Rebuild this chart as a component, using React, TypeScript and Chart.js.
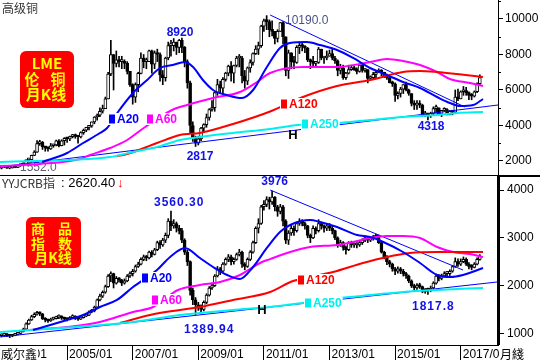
import React, { useEffect, useRef } from "react";
import { Chart, registerables } from "chart.js";

Chart.register(...registerables);

// ---------- axis ranges / ticks ----------
const START_YEAR = 2003; // first monthly candle = 2003/01
const X_MIN = 2002.954;
const X_MAX = 2018.137;
const yearTicks = [2003, 2005, 2007, 2009, 2011, 2013, 2015, 2017];
const cuTicks = [2000, 4000, 6000, 8000, 10000];
const cuMinorTicks = [3000, 5000, 7000, 9000, 11000];
const crbTicks = [1000, 2000, 3000, 4000];

// ---------- LME copper, monthly 2003/01 .. 2017/08 ----------
const cuFirstOpen = 1600;
const cuClose = [
  1690, 1660, 1590, 1610, 1660, 1640, 1740, 1770, 1800, 2060, 2080, 2320,
  2500, 2980, 3050, 2800, 2740, 2680, 2860, 2900, 3130, 2860, 3140, 3280,
  3250, 3370, 3400, 3380, 3350, 3600, 3730, 3890, 3980, 4200, 4480, 4580,
  4800, 4950, 5500, 6900, 8000, 7500, 7700, 7600, 7600, 7500, 7050, 6300,
  5600, 6300, 6940, 7800, 7600, 7600, 8200, 7450, 8100, 8000, 6850, 6700,
  7800, 8500, 8500, 8700, 8400, 8800, 8400, 7600, 6400, 4000, 3300, 3000,
  3250, 3850, 4050, 4450, 4900, 5000, 5850, 6300, 6100, 6600, 6950, 7350,
  6950, 7380, 7800, 7800, 6800, 6500, 7250, 7550, 8050, 8300, 8500, 9600,
  9900, 9850, 9400, 9300, 8900, 9300, 9800, 9000, 7100, 8100, 7600, 7550,
  8400, 8500, 8450, 8350, 7700, 7600, 7500, 7550, 8300, 7800, 7800, 7900,
  8050, 7800, 7650, 7100, 7250, 6700, 6950, 7150, 7200, 7150, 7050, 7400,
  7100, 7150, 6650, 6700, 6880, 7000, 7120, 7000, 6800, 6700, 6400, 6350,
  5700, 5800, 6050, 6300, 6000, 5800, 5250, 5150, 5200, 5150, 4600, 4700,
  4550, 4680, 4950, 5000, 4650, 4850, 4900, 4600, 4800, 4750, 5600, 5500,
  5900, 5950, 5850, 5700, 5650, 5900, 6350, 6700,
];
const cuHigh = [
  1720, 1730, 1700, 1640, 1700, 1720, 1760, 1790, 1850, 2070, 2150, 2330,
  2580, 3150, 3170, 3100, 2800, 2800, 2990, 2950, 3180, 3200, 3200, 3320,
  3300, 3400, 3500, 3520, 3380, 3650, 3800, 3900, 3990, 4200, 4500, 4650,
  5000, 5150, 5600, 7000, 8800, 8000, 8200, 7900, 7900, 7700, 7600, 7050,
  6350, 6400, 7000, 8100, 8000, 7800, 8250, 8250, 8200, 8300, 8100, 7100,
  7850, 8700, 8800, 8900, 8700, 8850, 8920, 8450, 7700, 6500, 4200, 3400,
  3400, 3900, 4100, 4650, 4950, 5400, 5900, 6600, 6500, 6700, 7000, 7400,
  7600, 7400, 7900, 8000, 7900, 7100, 7300, 7700, 8100, 8500, 8700, 9650,
  10000, 10190, 9950, 9900, 9300, 9400, 9800, 9850, 9000, 8250, 8100, 7900,
  8500, 8700, 8700, 8500, 8400, 7750, 7900, 7600, 8400, 8300, 7900, 8200,
  8250, 8300, 7900, 7700, 7450, 7400, 7000, 7400, 7400, 7350, 7250, 7400,
  7450, 7200, 7150, 6800, 7000, 7050, 7200, 7150, 7000, 6900, 6800, 6500,
  6400, 5900, 6150, 6300, 6450, 6050, 5800, 5400, 5400, 5400, 5200, 4800,
  4700, 4750, 5050, 5150, 5000, 4850, 5000, 4950, 4850, 4800, 6000, 6050,
  5950, 6200, 6150, 5900, 5800, 5950, 6400, 6850,
];
const cuLow = [
  1552, 1620, 1580, 1560, 1600, 1620, 1630, 1700, 1730, 1800, 2000, 2080,
  2300, 2480, 2880, 2650, 2550, 2550, 2650, 2770, 2850, 2790, 2850, 2900,
  3050, 3150, 3300, 3280, 3000, 3300, 3500, 3650, 3750, 3900, 4100, 4300,
  4500, 4700, 4950, 5500, 6800, 6000, 7300, 7300, 7200, 7200, 6900, 6200,
  5200, 5300, 5900, 6900, 7250, 7200, 7600, 6950, 7200, 7600, 6500, 6300,
  6500, 7700, 7900, 8200, 8000, 8100, 8100, 7300, 6100, 3600, 3100, 2817,
  2900, 3150, 3600, 3900, 4300, 4800, 4800, 5700, 5800, 5800, 6500, 6800,
  6500, 6400, 7300, 7300, 6400, 6100, 6300, 7000, 7400, 8000, 8000, 8400,
  9300, 9400, 9000, 9050, 8600, 8700, 9300, 8600, 6800, 6650, 7200, 7200,
  7500, 8050, 8200, 8100, 7600, 7200, 7300, 7300, 7500, 7700, 7500, 7700,
  7900, 7700, 7500, 6800, 6900, 6600, 6600, 6900, 7100, 7100, 6900, 7000,
  7000, 7000, 6400, 6600, 6600, 6700, 7000, 6800, 6700, 6600, 6400, 6200,
  5350, 5500, 5600, 5800, 5950, 5700, 5100, 4900, 4900, 5000, 4500, 4500,
  4318, 4450, 4600, 4700, 4600, 4500, 4800, 4600, 4600, 4600, 4700, 5400,
  5500, 5700, 5700, 5450, 5450, 5600, 5850, 6300,
];

// moving averages and trend lines: [year, value]
const cuMA20 = [
  [2004.24, 1943], [2005.0, 2450], [2005.49, 3014], [2006.0, 3577], [2006.22, 3859],
  [2006.55, 4760], [2007.01, 5831], [2007.44, 6563], [2007.83, 7239], [2008.22, 7408],
  [2008.59, 7577], [2008.84, 7296], [2009.14, 6563], [2009.45, 6000], [2009.87, 5718],
  [2010.33, 5549], [2010.67, 6000], [2011.09, 7296], [2011.49, 8366], [2011.79, 8648],
  [2012.31, 8704], [2012.71, 8535], [2013.23, 8253], [2013.72, 7803], [2014.24, 7239],
  [2014.75, 6845], [2015.24, 6451], [2015.76, 6113], [2016.28, 5606], [2016.67, 5268],
  [2016.98, 5099], [2017.38, 5155], [2017.68, 5493],
];
const cuMA60 = [
  [2002.955, 1718], [2004.17, 1831], [2005.39, 2112], [2005.7, 2338], [2006.31, 2732],
  [2006.83, 3183], [2007.38, 3915], [2008.2, 4873], [2008.66, 5155], [2009.45, 5549],
  [2010.27, 5887], [2010.79, 6451], [2011.19, 6958], [2012.19, 7296], [2013.23, 7296],
  [2014.24, 7577], [2014.75, 7746], [2015.24, 7634], [2015.76, 7408], [2016.28, 7014],
  [2016.67, 6620], [2017.28, 6394], [2017.68, 6225],
];
const cuMA120 = [
  [2006.52, 2280], [2006.83, 2394], [2007.74, 3014], [2008.44, 3465], [2009.05, 3577],
  [2010.06, 4085], [2011.19, 4790], [2012.19, 5606], [2013.23, 6225], [2014.24, 6563],
  [2015.24, 7014], [2015.76, 7070], [2016.28, 7014], [2016.89, 6901], [2017.68, 6732],
];
const cuMA250 = [
  [2002.955, 1943], [2006.31, 2225], [2007.01, 2507], [2007.74, 2789], [2008.44, 3183],
  [2009.05, 3352], [2010.06, 3577], [2011.19, 3803], [2012.04, 4028], [2013.23, 4141],
  [2014.24, 4310], [2015.24, 4479], [2016.28, 4591], [2016.89, 4704], [2017.68, 4760],
];
const cuSupport = [[2002.955, 1662], [2018.137, 5155]];
const cuResist = [[2011.19, 10225], [2017.13, 5042]];

// ---------- YYJCRB commodity index, monthly 2003/01 .. 2017/08 ----------
const crbFirstOpen = 950;
const crbClose = [
  960, 990, 950, 940, 960, 980, 1000, 1040, 1090, 1200, 1280, 1350,
  1400, 1440, 1410, 1310, 1280, 1260, 1300, 1310, 1340, 1350, 1320, 1300,
  1290, 1330, 1360, 1320, 1300, 1330, 1360, 1380, 1450, 1470, 1550, 1700,
  1780, 1860, 1980, 2200, 2250, 2050, 2150, 2120, 2050, 2100, 2200, 2250,
  2300, 2400, 2450, 2550, 2600, 2580, 2700, 2650, 2750, 2900, 2850, 2950,
  3050, 3350, 3250, 3300, 3200, 3150, 2950, 2700, 2500, 1900, 1700, 1600,
  1550, 1500, 1650, 1800, 1950, 2000, 2200, 2350, 2300, 2450, 2550, 2600,
  2500, 2550, 2650, 2700, 2450, 2400, 2550, 2700, 2900, 3200, 3300, 3650,
  3700, 3800, 3750, 3850, 3650, 3550, 3650, 3350, 2950, 3100, 3200, 3150,
  3300, 3350, 3300, 3250, 3050, 3000, 3200, 3150, 3300, 3250, 3200, 3250,
  3200, 3150, 3000, 2850, 2900, 2800, 2750, 2900, 2850, 2850, 2850, 2900,
  2950, 3000, 2950, 2980, 3000, 3050, 2900, 2700, 2600, 2500, 2450, 2350,
  2300, 2350, 2300, 2250, 2200, 2100, 2000, 1950, 2000, 1980, 1880, 1900,
  1900, 1950, 2050, 2200, 2150, 2200, 2250, 2250, 2300, 2400, 2500, 2450,
  2500, 2550, 2450, 2400, 2380, 2450, 2550, 2620.4,
];
const crbHigh = [
  990, 1010, 1000, 970, 980, 1000, 1020, 1060, 1110, 1220, 1300, 1380,
  1430, 1460, 1450, 1420, 1330, 1300, 1320, 1340, 1360, 1390, 1370, 1340,
  1320, 1350, 1390, 1370, 1330, 1350, 1380, 1400, 1470, 1500, 1570, 1720,
  1820, 1890, 2010, 2230, 2290, 2260, 2190, 2170, 2130, 2140, 2230, 2290,
  2340, 2430, 2490, 2580, 2640, 2630, 2720, 2730, 2780, 2930, 2940, 2990,
  3100, 3400, 3560.3, 3380, 3330, 3260, 3200, 2980, 2740, 2520, 1950, 1750,
  1650, 1600, 1680, 1830, 1980, 2050, 2230, 2400, 2380, 2480, 2580, 2650,
  2640, 2580, 2680, 2760, 2720, 2480, 2580, 2730, 2930, 3230, 3400, 3680,
  3780, 3860, 3850, 3976, 3860, 3680, 3700, 3680, 3380, 3150, 3280, 3250,
  3330, 3400, 3380, 3330, 3260, 3080, 3250, 3230, 3380, 3330, 3270, 3290,
  3300, 3250, 3160, 3020, 2950, 2920, 2830, 2920, 2930, 2900, 2900, 2930,
  2980, 3040, 3030, 3010, 3050, 3080, 3060, 2920, 2720, 2630, 2530, 2470,
  2380, 2390, 2380, 2340, 2280, 2220, 2120, 2030, 2040, 2050, 1990, 1940,
  1950, 1990, 2080, 2240, 2230, 2240, 2290, 2300, 2330, 2420, 2580, 2560,
  2560, 2600, 2580, 2480, 2440, 2480, 2580, 2650,
];
const crbLow = [
  930, 950, 930, 910, 930, 950, 970, 990, 1030, 1080, 1190, 1270,
  1330, 1380, 1370, 1290, 1240, 1230, 1250, 1280, 1300, 1310, 1290, 1270,
  1260, 1280, 1320, 1290, 1270, 1290, 1320, 1350, 1370, 1430, 1450, 1540,
  1680, 1750, 1840, 1960, 2080, 1950, 2030, 2070, 2000, 2030, 2080, 2170,
  2200, 2280, 2380, 2430, 2520, 2520, 2560, 2600, 2640, 2730, 2780, 2820,
  2900, 3000, 3150, 3200, 3120, 3080, 2900, 2650, 2420, 1800, 1600, 1389.94,
  1480, 1420, 1470, 1620, 1780, 1920, 1980, 2180, 2230, 2280, 2430, 2500,
  2430, 2450, 2530, 2620, 2380, 2330, 2380, 2520, 2680, 2880, 3100, 3280,
  3580, 3650, 3600, 3700, 3560, 3450, 3500, 3250, 2880, 2860, 3050, 3050,
  3120, 3260, 3250, 3180, 3000, 2900, 2980, 3080, 3120, 3180, 3120, 3150,
  3150, 3080, 2960, 2800, 2820, 2740, 2660, 2730, 2800, 2800, 2790, 2820,
  2860, 2920, 2900, 2920, 2950, 2980, 2880, 2680, 2560, 2440, 2390, 2300,
  2230, 2260, 2250, 2200, 2150, 2060, 1960, 1900, 1920, 1940, 1850, 1840,
  1817.8, 1870, 1930, 2030, 2100, 2120, 2180, 2200, 2210, 2280, 2380, 2400,
  2420, 2480, 2420, 2350, 2330, 2370, 2430, 2530,
];

const crbMA20 = [
  [2003.96, 1071], [2005.0, 1280], [2005.49, 1385], [2006.0, 1552], [2006.52, 1699],
  [2007.01, 1970], [2007.74, 2326], [2008.14, 2598], [2008.59, 2787], [2009.05, 2577],
  [2009.45, 2389], [2009.88, 2222], [2010.27, 2138], [2010.67, 2389], [2011.09, 2787],
  [2011.49, 3121], [2011.8, 3268], [2012.41, 3372], [2012.71, 3330], [2013.23, 3226],
  [2013.84, 3059], [2014.24, 3017], [2014.64, 2912], [2015.24, 2703], [2015.76, 2473],
  [2016.28, 2222], [2016.68, 2180], [2017.07, 2222], [2017.68, 2368],
];
const crbMA60 = [
  [2003.87, 1071], [2005.0, 1134], [2006.0, 1239], [2007.01, 1448], [2007.62, 1552],
  [2008.38, 1908], [2009.05, 2013], [2009.66, 2075], [2010.27, 2222], [2010.88, 2473],
  [2011.19, 2555], [2011.8, 2703], [2012.41, 2808], [2013.23, 2850], [2013.72, 2912],
  [2014.24, 2996], [2014.75, 3038], [2015.24, 3038], [2015.76, 2996], [2016.28, 2808],
  [2016.77, 2703], [2017.28, 2661], [2017.68, 2598],
];
const crbMA120 = [
  [2006.61, 1218], [2007.53, 1385], [2008.44, 1490], [2009.05, 1552], [2010.06, 1699],
  [2011.19, 1866], [2011.89, 2096], [2013.11, 2284], [2014.02, 2473], [2014.75, 2598],
  [2015.45, 2682], [2016.28, 2703], [2017.68, 2703],
];
const crbMA250 = [
  [2002.955, 1029], [2007.01, 1239], [2008.44, 1385], [2009.05, 1427], [2010.06, 1490],
  [2011.19, 1552], [2012.19, 1636], [2013.32, 1740], [2014.24, 1803], [2015.24, 1866],
  [2016.28, 1908], [2017.68, 1950],
];
const crbSupport = [[2002.955, 925], [2018.11, 2075]];
const crbResist = [[2011.19, 4000], [2017.07, 2326]];

// ---------- styles ----------
const BLUE = "#0000ff";
const MAGENTA = "#ff00ff";
const RED = "#ff0000";
const CYAN = "#00f0f0";
const LABEL_BLUE = "#1212e6";
const SANS = '"Liberation Sans", Arial, sans-serif';
const CJK = '"Noto Sans CJK SC", sans-serif';

function buildCandles(firstOpen: number, close: number[], high: number[], low: number[]) {
  const bodies: any[] = [];
  const wicks: any[] = [];
  const fills: string[] = [];
  close.forEach((c, i) => {
    const o = i === 0 ? firstOpen : close[i - 1];
    const x = START_YEAR + i / 12;
    bodies.push({ x, y: [o, c] });
    wicks.push({ x, y: [Math.min(low[i], o, c), Math.max(high[i], o, c)] });
    fills.push(c >= o ? "#ffffff" : "#000000");
  });
  return { bodies, wicks, fills };
}

function lineDs(points: number[][], color: string, width: number, curved: boolean, order: number) {
  return {
    type: "line" as const,
    data: points.map(([x, y]) => ({ x, y })),
    borderColor: color,
    borderWidth: width,
    pointRadius: 0,
    fill: false,
    tension: curved ? 0.4 : 0,
    cubicInterpolationMode: curved ? ("monotone" as const) : ("default" as const),
    order,
  };
}

function candleDatasets(firstOpen: number, close: number[], high: number[], low: number[]) {
  const { bodies, wicks, fills } = buildCandles(firstOpen, close, high, low);
  return [
    {
      type: "bar" as const,
      data: wicks,
      backgroundColor: "#000",
      borderWidth: 0,
      barThickness: 1,
      grouped: false,
      order: 20,
    },
    {
      type: "bar" as const,
      data: bodies,
      backgroundColor: fills,
      borderColor: "#000",
      borderWidth: 1,
      borderSkipped: false,
      barThickness: 3,
      minBarLength: 2,
      grouped: false,
      order: 19,
    },
  ];
}

function txt(ctx: CanvasRenderingContext2D, s: string, x: number, y: number, color: string, font: string, align: CanvasTextAlign = "left") {
  ctx.font = font;
  ctx.fillStyle = color;
  ctx.textAlign = align;
  ctx.textBaseline = "middle";
  ctx.fillText(s, x, y);
}

function tag(ctx: CanvasRenderingContext2D, x: number, y: number, label: string, color: string) {
  ctx.font = `bold 12px ${SANS}`;
  const w = 8 + ctx.measureText(label).width;
  ctx.fillStyle = "#fff";
  ctx.fillRect(x - 1, y - 6, w + 2, 12);
  ctx.fillStyle = color;
  ctx.fillRect(x, y - 4.5, 6, 9);
  txt(ctx, label, x + 8, y + 0.5, color, `bold 12px ${SANS}`);
}

function redBox(ctx: CanvasRenderingContext2D, x: number, y: number, w: number, h: number, rows: [string, number, number][], size: number) {
  ctx.fillStyle = "#ff0000";
  ctx.beginPath();
  (ctx as any).roundRect(x, y, w, h, 6);
  ctx.fill();
  rows.forEach(([s, cx, cy]) => txt(ctx, s, cx, cy, "#ffff00", `bold ${size}px ${CJK}`, "center"));
}

function yAxis(min: number, max: number, ticks: number[], borderWidth: number, tickLen: number, pad: number) {
  return {
    position: "right" as const,
    min,
    max,
    afterBuildTicks: (s: any) => {
      s.ticks = ticks.map((v) => ({ value: v }));
    },
    afterFit: (s: any) => {
      s.width = 42;
      s.paddingTop = 0;
      s.paddingBottom = 0;
    },
    grid: { drawOnChartArea: false, drawTicks: true, tickLength: tickLen, tickColor: "#000", color: "#000" },
    border: { display: true, color: "#000", width: borderWidth },
    ticks: { padding: pad, color: "#000", font: { size: 12, family: SANS }, callback: (v: any) => String(v) },
  };
}

const baseOptions = {
  animation: false as const,
  responsive: false,
  maintainAspectRatio: false,
  events: [] as any[],
  plugins: { legend: { display: false }, tooltip: { enabled: false } },
};

function topConfig(): any {
  const overlay = {
    id: "cuOverlay",
    beforeDatasetsDraw(chart: any) {
      const ctx = chart.ctx as CanvasRenderingContext2D;
      ctx.save();
      txt(ctx, "10190.0", 285, 21, "#4a5282", `12px ${SANS}`);
      txt(ctx, "1552.0", 20, 168, "#5a6070", `12px ${SANS}`);
      ctx.restore();
    },
    afterDatasetsDraw(chart: any) {
      const ctx = chart.ctx as CanvasRenderingContext2D;
      ctx.save();
      txt(ctx, "高级铜", 2, 8, "#333", `12px ${CJK}`);
      redBox(ctx, 20, 51, 54, 57, [["LME", 47, 63], ["伦", 32, 79], ["铜", 58, 79], ["月K线", 46, 94]], 15);
      const b = `bold 12px ${SANS}`;
      txt(ctx, "8920", 180, 33, LABEL_BLUE, b, "center");
      txt(ctx, "2817", 200, 157, LABEL_BLUE, b, "center");
      txt(ctx, "4318", 431, 127, LABEL_BLUE, b, "center");
      tag(ctx, 109, 119, "A20", BLUE);
      tag(ctx, 147, 119, "A60", MAGENTA);
      tag(ctx, 281, 104, "A120", RED);
      tag(ctx, 302, 124, "A250", CYAN);
      txt(ctx, "H", 293, 135, "#000", `bold 13px ${SANS}`, "center");
      ctx.restore();
    },
    afterDraw(chart: any) {
      const ctx = chart.ctx as CanvasRenderingContext2D;
      const y = chart.scales.y;
      ctx.save();
      ctx.fillStyle = "#000";
      cuMinorTicks.forEach((v) => {
        if (v <= y.max) ctx.fillRect(499, Math.round(y.getPixelForValue(v)), 2, 1);
      });
      ctx.restore();
    },
  };
  return {
    type: "bar",
    data: {
      datasets: [
        lineDs(cuSupport, BLUE, 1, false, 3),
        lineDs(cuResist, BLUE, 1, false, 3),
        lineDs(cuMA250, CYAN, 2, true, 2),
        lineDs(cuMA120, RED, 2, true, 2),
        lineDs(cuMA60, MAGENTA, 2, true, 2),
        lineDs(cuMA20, BLUE, 2, true, 1),
        ...candleDatasets(cuFirstOpen, cuClose, cuHigh, cuLow),
      ],
    },
    options: {
      ...baseOptions,
      layout: { padding: 0 },
      scales: {
        x: { type: "linear", min: X_MIN, max: X_MAX, display: false, offset: false, grid: { offset: false } },
        y: yAxis(1211, 11070, cuTicks, 1, 5, 2),
      },
    },
    plugins: [overlay],
  };
}

function bottomConfig(): any {
  const overlay = {
    id: "crbOverlay",
    afterDatasetsDraw(chart: any) {
      const ctx = chart.ctx as CanvasRenderingContext2D;
      ctx.save();
      txt(ctx, "YYJCRB指", 2, 8, "#333", `12px ${CJK}`);
      txt(ctx, ": 2620.40", 61, 8, "#000", `13px ${SANS}`);
      txt(ctx, "↓", 117, 8, "#ff0000", `bold 13px ${SANS}`);
      redBox(ctx, 26, 42, 55, 51, [["商", 38, 54], ["品", 65, 54], ["指", 38, 69], ["数", 65, 69], ["月K线", 53, 83]], 14);
      const b = `bold 12px ${SANS}`;
      (ctx as any).letterSpacing = "1px";
      txt(ctx, "3560.30", 154, 28, LABEL_BLUE, b);
      txt(ctx, "1389.94", 184, 155, LABEL_BLUE, b);
      txt(ctx, "1817.8", 412, 132, LABEL_BLUE, b);
      (ctx as any).letterSpacing = "0px";
      txt(ctx, "3976", 288, 7, LABEL_BLUE, b, "right");
      tag(ctx, 142, 103, "A20", BLUE);
      tag(ctx, 152, 125, "A60", MAGENTA);
      tag(ctx, 298, 105, "A120", RED);
      tag(ctx, 305, 128, "A250", CYAN);
      txt(ctx, "H", 262, 135, "#000", `bold 13px ${SANS}`, "center");
      ctx.restore();
    },
    afterDraw(chart: any) {
      const ctx = chart.ctx as CanvasRenderingContext2D;
      const area = chart.chartArea;
      ctx.save();
      ctx.fillStyle = "#000";
      ctx.fillRect(0, 0, 498, 1);
      ctx.fillRect(498, 0, 42, 2);
      ctx.fillRect(498, 0, 2, area.bottom);
      ctx.fillStyle = "#fff";
      ctx.fillRect(0, area.bottom + 1, 38, 185 - area.bottom);
      ctx.fillRect(499, area.bottom + 1, 41, 185 - area.bottom);
      txt(ctx, "威尔鑫", 1, 179, "#000", `12px ${CJK}`);
      txt(ctx, "月綫", 500, 179, "#000", `12px ${CJK}`);
      ctx.restore();
    },
  };
  return {
    type: "bar",
    data: {
      datasets: [
        lineDs(crbSupport, BLUE, 1, false, 3),
        lineDs(crbResist, BLUE, 1, false, 3),
        lineDs(crbMA250, CYAN, 2, true, 2),
        lineDs(crbMA120, RED, 2, true, 2),
        lineDs(crbMA60, MAGENTA, 2, true, 2),
        lineDs(crbMA20, BLUE, 2, true, 1),
        ...candleDatasets(crbFirstOpen, crbClose, crbHigh, crbLow),
      ],
    },
    options: {
      ...baseOptions,
      layout: { padding: { top: 1, left: 0, right: 0, bottom: 0 } },
      scales: {
        x: {
          type: "linear",
          position: "bottom",
          min: X_MIN,
          max: X_MAX,
          offset: false,
          afterBuildTicks: (s: any) => {
            s.ticks = yearTicks.map((v) => ({ value: v }));
          },
          afterFit: (s: any) => {
            s.height = 15;
            s.paddingLeft = 0;
            s.paddingRight = 0;
          },
          grid: { offset: false, drawOnChartArea: false, drawTicks: true, tickLength: 15, tickColor: "#000", color: "#000" },
          border: { display: true, color: "#000", width: 1 },
          ticks: {
            autoSkip: false,
            maxRotation: 0,
            align: "start",
            labelOffset: 2,
            padding: -13,
            color: "#000",
            font: { size: 12, family: SANS },
            callback: (v: any) => `${v}/01`,
          },
        },
        y: yAxis(757, 4293, crbTicks, 2, 6, 3),
      },
    },
    plugins: [overlay],
  };
}

export default function App() {
  const topRef = useRef<HTMLCanvasElement>(null);
  const botRef = useRef<HTMLCanvasElement>(null);
  useEffect(() => {
    const c1 = new Chart(topRef.current as HTMLCanvasElement, topConfig());
    const c2 = new Chart(botRef.current as HTMLCanvasElement, bottomConfig());
    return () => {
      c1.destroy();
      c2.destroy();
    };
  }, []);
  return (
    <div style={{ position: "fixed", left: 0, top: 0, width: 540, height: 360, background: "#fff" }}>
      <canvas ref={topRef} width={540} height={175} style={{ position: "absolute", left: 0, top: 0, width: 540, height: 175 }} />
      <canvas ref={botRef} width={540} height={185} style={{ position: "absolute", left: 0, top: 175, width: 540, height: 185 }} />
    </div>
  );
}
